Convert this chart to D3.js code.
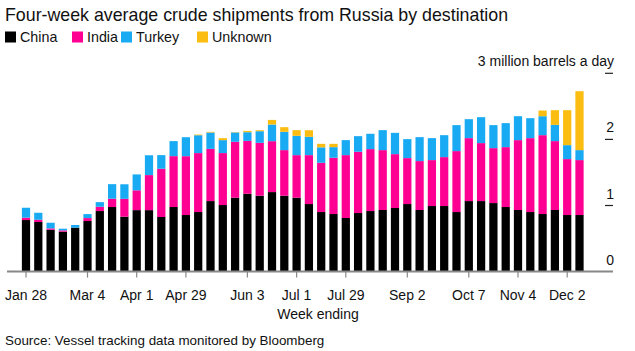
<!DOCTYPE html>
<html><head><meta charset="utf-8">
<script src="https://cdn.jsdelivr.net/npm/d3@7/dist/d3.min.js"></script>
<style>
body{margin:0;background:#fff;}
text{font-family:"Liberation Sans",Arial,sans-serif;fill:#111;}
</style></head>
<body><svg id="c" width="635" height="351"></svg>
<script>
const weeks = ["Jan 28","Feb 4","Feb 11","Feb 18","Feb 25","Mar 4","Mar 11","Mar 18","Mar 25","Apr 1","Apr 8","Apr 15","Apr 22","Apr 29","May 6","May 13","May 20","May 27","Jun 3","Jun 10","Jun 17","Jun 24","Jul 1","Jul 8","Jul 15","Jul 22","Jul 29","Aug 5","Aug 12","Aug 19","Aug 26","Sep 2","Sep 9","Sep 16","Sep 23","Sep 30","Oct 7","Oct 14","Oct 21","Oct 28","Nov 4","Nov 11","Nov 18","Nov 25","Dec 2","Dec 9"];
const china  = [0.78,0.75,0.634,0.604,0.665,0.765,0.916,0.977,0.831,0.93,0.93,0.826,0.977,0.856,0.901,1.067,1.007,1.118,1.178,1.148,1.203,1.148,1.118,1.022,0.901,0.871,0.811,0.886,0.916,0.932,0.962,1.022,0.932,0.992,0.992,0.901,1.067,1.067,1.037,0.977,0.932,0.901,0.871,0.932,0.856,0.856];
const india  = [0.036,0.035,0.02,0.02,0,0.045,0.065,0.126,0.27,0.30,0.53,0.73,0.77,0.89,0.892,0.79,0.786,0.846,0.80,0.80,0.77,0.69,0.644,0.74,0.745,0.851,0.951,0.927,0.937,0.906,0.815,0.695,0.74,0.695,0.74,0.922,0.952,0.877,0.831,0.906,1.057,1.118,1.193,1.042,0.846,0.831];
const turkey = [0.15,0.105,0.085,0.025,0.04,0.06,0.07,0.22,0.22,0.24,0.30,0.206,0.227,0.287,0.27,0.247,0.196,0.141,0.131,0.176,0.252,0.277,0.292,0.277,0.234,0.161,0.227,0.236,0.232,0.302,0.322,0.287,0.362,0.332,0.332,0.393,0.287,0.392,0.348,0.363,0.362,0.302,0.287,0.246,0.211,0.151];
const unknown= [0,0,0,0,0,0,0,0,0,0,0,0,0,0,0.01,0.01,0.03,0.005,0.02,0.015,0.07,0.07,0.086,0.10,0.053,0.05,0,0,0,0,0,0,0,0,0,0,0,0,0,0,0,0,0.086,0.222,0.529,0.891];
const tickWeeks = ["Jan 28","Mar 4","Apr 1","Apr 29","Jun 3","Jul 1","Jul 29","Sep 2","Oct 7","Nov 4","Dec 2"];
const yTicks = [0,1,2,3];
const seriesNames = ["China","India","Turkey","Unknown"];
const colors = ["#000000","#fe0192","#18aaf2","#fbbd12"];

const svg = d3.select("#c");
const data = weeks.map((w,i)=>({week:w,China:china[i],India:india[i],Turkey:turkey[i],Unknown:unknown[i]}));
const stack = d3.stack().keys(seriesNames)(data);

const x = d3.scaleBand().domain(weeks).range([19.85, 585.65]).paddingInner(0.33).paddingOuter(0.165);
const y = d3.scaleLinear().domain([0,3]).range([271.6, 73.3]);
const color = d3.scaleOrdinal().domain(seriesNames).range(colors);

// title
svg.append("text").attr("x",5).attr("y",21).attr("font-size",17.8).text("Four-week average crude shipments from Russia by destination");

// legend
const legX = [5,72,121,197];
seriesNames.forEach((s,i)=>{
  svg.append("rect").attr("x",legX[i]).attr("y",31.5).attr("width",11).attr("height",11).attr("fill",colors[i]);
  svg.append("text").attr("x",legX[i]+15).attr("y",42).attr("font-size",14.3).text(s);
});

// bars
svg.append("g").selectAll("g").data(stack).join("g").attr("fill",d=>color(d.key))
  .selectAll("rect").data(d=>d).join("rect")
  .attr("x",d=>x(d.data.week)).attr("width",x.bandwidth())
  .attr("y",d=>y(d[1])).attr("height",d=>Math.max(0,y(d[0])-y(d[1])));

// y axis (right side short ticks)
const ya = svg.append("g");
yTicks.filter(t=>t>0).forEach(t=>{
  ya.append("line").attr("x1",605).attr("x2",613).attr("y1",y(t)).attr("y2",y(t)).attr("stroke","#222").attr("stroke-width",1.2);
});
yTicks.forEach(t=>{
  ya.append("text").attr("x",614).attr("y",y(t)-7).attr("text-anchor","end").attr("font-size",14)
    .text(t===3? "3 million barrels a day" : String(t));
});

// x axis
const xa = svg.append("g").attr("transform",`translate(0,${y(0)})`)
  .call(d3.axisBottom(x).tickValues(tickWeeks).tickSize(6).tickPadding(12).tickSizeOuter(0));
xa.select(".domain").remove();
xa.selectAll(".tick line").attr("stroke","#888").attr("stroke-width",1.2);
xa.selectAll(".tick text").attr("font-size",14).attr("font-family","Liberation Sans, Arial, sans-serif").attr("fill","#111");
svg.append("line").attr("x1",7).attr("x2",613).attr("y1",y(0)).attr("y2",y(0)).attr("stroke","#888").attr("stroke-width",2);

svg.append("text").attr("x",318).attr("y",319).attr("text-anchor","middle").attr("font-size",14).text("Week ending");
svg.append("text").attr("x",5).attr("y",345).attr("font-size",13.4).attr("fill","#333").text("Source: Vessel tracking data monitored by Bloomberg");
</script></body></html>
